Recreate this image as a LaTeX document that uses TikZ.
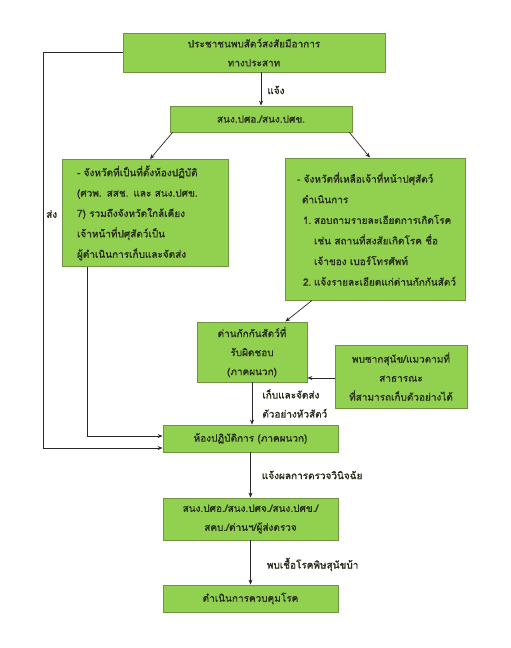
\documentclass[tikz,border=0pt]{standalone}
\usepackage{fontspec}
\newfontfamily\thaifont[Script=Thai,FakeBold=1.2]{Loma}
\usepackage{tikz}
\usetikzlibrary{arrows.meta,calc,positioning}
\definecolor{FlowGreen}{RGB}{146,208,80}
\definecolor{FlowEdge}{RGB}{112,146,66}
\definecolor{FlowText}{RGB}{38,44,26}
\definecolor{FlowLine}{RGB}{40,40,40}

\begin{document}
\begin{tikzpicture}[x=1pt,y=-1pt,>={Stealth[length=5pt,width=4pt]}]
    \tikzset{stepbox/.style={draw=FlowEdge,fill=FlowGreen,line width=0.8pt,inner sep=2pt,align=center,text=FlowText,font=\thaifont\fontsize{10}{19}\selectfont},
      flowlabel/.style={text=FlowText,anchor=west,inner sep=0pt,align=left,font=\thaifont\fontsize{10}{19}\selectfont},
      flow/.style={->,FlowLine,line width=0.7pt}}
    \useasboundingbox (0,0) rectangle (511,648);
    \node[stepbox,minimum width=262pt,minimum height=39pt] (report) at (254,52.5) {ประชาชนพบสัตว์สงสัยมีอาการ\\ทางประสาท};
    \node[stepbox,minimum width=182pt,minimum height=26pt] (office) at (261,119) {สนง.ปศอ./สนง.ปศข.};
    \node[stepbox,minimum width=166pt,minimum height=107pt,text width=136pt,align=left,font=\thaifont\fontsize{10}{20.4}\selectfont] (labprov) at (145,213) {- จังหวัดที่เป็นที่ตั้งห้องปฏิบัติ\\(ศวพ. สสช. และ สนง.ปศข.\\7) รวมถึงจังหวัดใกล้เคียง\\เจ้าหน้าที่ปศุสัตว์เป็น\\ผู้ดำเนินการเก็บและจัดส่ง};
    \node[stepbox,minimum width=180pt,minimum height=142pt,text width=156pt,align=left,font=\thaifont\fontsize{10}{20.6}\selectfont] (otherprov) at (375,229) {- จังหวัดที่เหลือเจ้าที่หน้าปศุสัตว์\\\hspace*{5pt}ดำเนินการ\\\hspace*{6pt}\makebox[11pt][l]{1.}สอบถามรายละเอียดการเกิดโรค\\\hspace*{17pt}เช่น สถานที่สงสัยเกิดโรค ชื่อ\\\hspace*{17pt}เจ้าของ เบอร์โทรศัพท์\\\hspace*{6pt}\makebox[11pt][l]{2.}แจ้งรายละเอียดแก่ด่านกักกันสัตว์\\[4pt]};
    \node[stepbox,minimum width=110pt,minimum height=60pt] (quarantine) at (252,352) {ด่านกักกันสัตว์ที่\\รับผิดชอบ\\(ภาคผนวก)};
    \node[stepbox,minimum width=132pt,minimum height=63pt] (carcass) at (401,376.5) {พบซากสุนัข/แมวตามที่\\สาธารณะ\\ที่สามารถเก็บตัวอย่างได้};
    \node[stepbox,minimum width=175pt,minimum height=27pt] (lab) at (250.5,438.5) {ห้องปฏิบัติการ (ภาคผนวก)};
    \node[stepbox,minimum width=175pt,minimum height=42pt] (notify) at (250.5,519) {สนง.ปศอ./สนง.ปศจ./สนง.ปศข./\\สคบ./ด่านฯ/ผู้ส่งตรวจ};
    \node[stepbox,minimum width=175pt,minimum height=27pt] (control) at (250.5,598.5) {ดำเนินการควบคุมโรค};
    \coordinate (outer) at (43,52.5);
    % connectors
    \draw[flow] (office.north |- report.south) -- node[flowlabel,right=6pt,yshift=-1pt] (lblinform) {แจ้ง} (office.north);
    \draw[flow] ([xshift=3pt]office.south west) -- ([xshift=5pt]labprov.north);
    \draw[flow] ([xshift=-3pt]office.south east) -- ([xshift=-5pt]otherprov.north);
    \draw[flow] ([xshift=-63pt]otherprov.south) -- ([xshift=-22pt]quarantine.north east);
    \draw[flow] ([yshift=-1.5pt]carcass.west) -- ([yshift=-1.5pt]carcass.west -| quarantine.east);
    \draw[flow] (quarantine.south |- quarantine.south) -- (quarantine.south |- lab.north)
      node[flowlabel,pos=0.5,xshift=10pt] (lblsample) {เก็บและจัดส่ง\\ตัวอย่างหัวสัตว์};
    \draw[flow] ([xshift=26pt]labprov.south west) |- ([yshift=2.5pt]lab.west);
    \draw[flow] (report.west) -- (outer) |- ([yshift=-9.5pt]lab.west);
    \node[flowlabel] (lblsend) at (46,214) {ส่ง};
    \draw[flow] (lab.south) -- node[flowlabel,right=11pt] (lblresult) {แจ้งผลการตรวจวินิจฉัย} (notify.north);
    \draw[flow] (notify.south) -- node[flowlabel,right=16pt,yshift=-2pt] (lblfound) {พบเชื้อโรคพิษสุนัขบ้า} (control.north);
\end{tikzpicture}
\end{document}
